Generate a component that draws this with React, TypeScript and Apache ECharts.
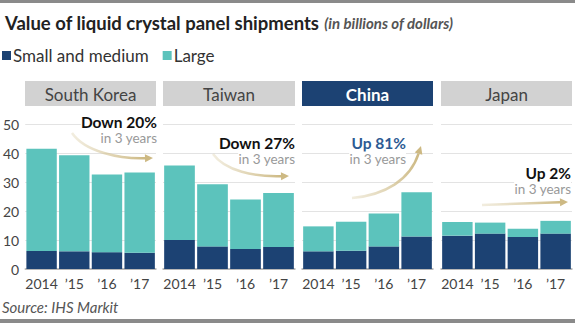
import React, { useEffect, useRef } from "react";
import * as echarts from "echarts";

const years = ["2014", "\u201915", "\u201916", "\u201917"];
const countries = ["South Korea", "Taiwan", "China", "Japan"];
const yTicks = [0, 10, 20, 30, 40, 50];

const smallKorea = [6.2, 6.1, 5.8, 5.6];
const largeKorea = [35.3, 33.1, 26.8, 27.7];
const smallTaiwan = [10.0, 7.8, 6.9, 7.6];
const largeTaiwan = [25.7, 21.4, 17.1, 18.6];
const smallChina = [6.1, 6.3, 7.8, 11.2];
const largeChina = [8.6, 10.0, 11.3, 15.3];
const smallJapan = [11.5, 12.2, 11.0, 12.2];
const largeJapan = [4.7, 3.8, 2.9, 4.4];

const smallAll = [smallKorea, smallTaiwan, smallChina, smallJapan];
const largeAll = [largeKorea, largeTaiwan, largeChina, largeJapan];

const NAVY = "#1c4273";
const TEAL = "#5cc3bc";
const FONT = "Lato, 'Noto Sans', sans-serif";

export default function App() {
  const ref = useRef<HTMLDivElement>(null);
  useEffect(() => {
    if (!ref.current) return;
    const chart = echarts.init(ref.current, null, { renderer: "svg" });
    const lefts = [25, 163, 302, 441];
    const widths = [131, 132, 131, 131];
    const grids = lefts.map((l, i) => ({ left: l, width: widths[i], top: 124, height: 145 }));
    const xAxes = lefts.map((_, i) => ({
      type: "category",
      gridIndex: i,
      data: years,
      axisLine: { lineStyle: { color: "#aaaaaa", width: 1.5 } },
      axisTick: { alignWithLabel: true, length: 3, lineStyle: { color: "#111", width: 3 } },
      axisLabel: { color: "#444", fontSize: 14, fontFamily: FONT, margin: 7, interval: 0 },
    }));
    const yAxes = lefts.map((_, i) => ({
      type: "value",
      gridIndex: i,
      min: yTicks[0],
      max: yTicks[yTicks.length - 1],
      interval: 10,
      axisLine: { show: false },
      axisTick: { show: false },
      axisLabel: { show: i === 0, color: "#444", fontSize: 14, fontFamily: FONT, margin: 6 },
      splitLine: { lineStyle: { color: "#e3e3e3", width: 1 } },
    }));
    const series: any[] = [];
    for (let i = 0; i < 4; i++) {
      series.push({
        name: "Small and medium",
        type: "bar",
        xAxisIndex: i,
        yAxisIndex: i,
        stack: "s" + i,
        data: smallAll[i],
        barCategoryGap: "7%",
        itemStyle: { color: NAVY },
      });
      series.push({
        name: "Large",
        type: "bar",
        xAxisIndex: i,
        yAxisIndex: i,
        stack: "s" + i,
        data: largeAll[i],
        barCategoryGap: "7%",
        itemStyle: { color: TEAL },
      });
    }
    const arrow = (x1: number, y1: number, c1x: number, c1y: number, c2x: number, c2y: number, x2: number, y2: number) => {
      const ang = Math.atan2(y2 - c2y, x2 - c2x);
      const L = 8, W = 4;
      const bx = x2 - L * Math.cos(ang), by = y2 - L * Math.sin(ang);
      const px = -Math.sin(ang) * W, py = Math.cos(ang) * W;
      return [
        {
          type: "bezierCurve",
          z: 70,
          shape: { x1, y1, cpx1: c1x, cpy1: c1y, cpx2: c2x, cpy2: c2y, x2: bx, y2: by },
          style: {
            stroke: new echarts.graphic.LinearGradient(0, 0, 1, 0, [
              { offset: 0, color: "rgba(222,210,175,0.4)" },
              { offset: 1, color: "#cdb983" },
            ]),
            lineWidth: 2.5,
            fill: null,
          },
        },
        {
          type: "polygon",
          z: 70,
          shape: { points: [[x2, y2], [bx + px, by + py], [bx - px, by - py]] },
          style: { fill: "#cdb983" },
        },
      ];
    };
    const note = (x: number, y: number, head: string, color: string) => [
      {
        type: "text",
        z: 60,
        x,
        y,
        style: {
          text: head,
          fill: color,
          font: `bold 15.5px ${FONT}`,
          align: "right",
          verticalAlign: "middle",
          backgroundColor: "#fff",
        },
      },
      {
        type: "text",
        z: 60,
        x,
        y: y + 15.5,
        style: {
          text: "in 3 years",
          fill: "#999",
          font: `13.5px ${FONT}`,
          align: "right",
          verticalAlign: "middle",
          backgroundColor: "#fff",
        },
      },
    ];
    const headers: any[] = lefts.map((l, i) => {
      const isChina = countries[i] === "China";
      return {
        type: "group",
        children: [
          { type: "rect", shape: { x: l, y: 81, width: widths[i], height: 25 }, style: { fill: isChina ? NAVY : "#d2d2d2" } },
          {
            type: "text",
            x: l + widths[i] / 2,
            y: 94,
            style: {
              text: countries[i],
              fill: isChina ? "#fff" : "#444",
              font: `${isChina ? "bold " : ""}17px ${FONT}`,
              align: "center",
              verticalAlign: "middle",
            },
          },
        ],
      };
    });
    chart.setOption({
      animation: false,
      title: {
        text: "{b|Value of liquid crystal panel shipments} {i|(in billions of dollars)}",
        left: 0,
        top: 8,
        textStyle: {
          rich: {
            b: { fontSize: 18.5, fontWeight: "bold", color: "#222", fontFamily: FONT },
            i: { fontSize: 15, fontStyle: "italic", color: "#555", fontFamily: FONT },
          },
        },
      },
      legend: {
        left: -3,
        top: 42,
        icon: "rect",
        itemWidth: 9,
        itemHeight: 9,
        itemGap: 14,
        data: ["Small and medium", "Large"],
        textStyle: { fontSize: 17, color: "#333", fontFamily: FONT, padding: [0, 0, 0, -3] },
      },
      grid: grids,
      xAxis: xAxes,
      yAxis: yAxes,
      series,
      graphic: [
        { type: "rect", shape: { x: 0, y: 0, width: 575, height: 3 }, style: { fill: "#8a8a8a" } },
        { type: "rect", shape: { x: 0, y: 319, width: 575, height: 4 }, style: { fill: "#8a8a8a" } },
        ...headers,
        ...note(157, 122, "Down 20%", "#111"),
        ...note(295, 143, "Down 27%", "#111"),
        ...note(406, 143, "Up 81%", "#2d5b93"),
        ...note(571, 173, "Up 2%", "#111"),
        ...arrow(72, 133, 85, 152, 120, 159, 153, 158),
        ...arrow(213, 154, 225, 171, 255, 177, 289, 176),
        ...arrow(352, 198, 385, 195, 410, 180, 421, 146),
        ...arrow(482, 205, 510, 204, 540, 203, 568, 202),
        {
          type: "text",
          x: 2,
          y: 307,
          style: { text: "Source: IHS Markit", fill: "#555", font: `italic 15px ${FONT}`, verticalAlign: "middle" },
        },
      ],
    });
    return () => chart.dispose();
  }, []);
  return <div ref={ref} style={{ width: 575, height: 323, position: "absolute", left: 0, top: 0 }} />;
}
